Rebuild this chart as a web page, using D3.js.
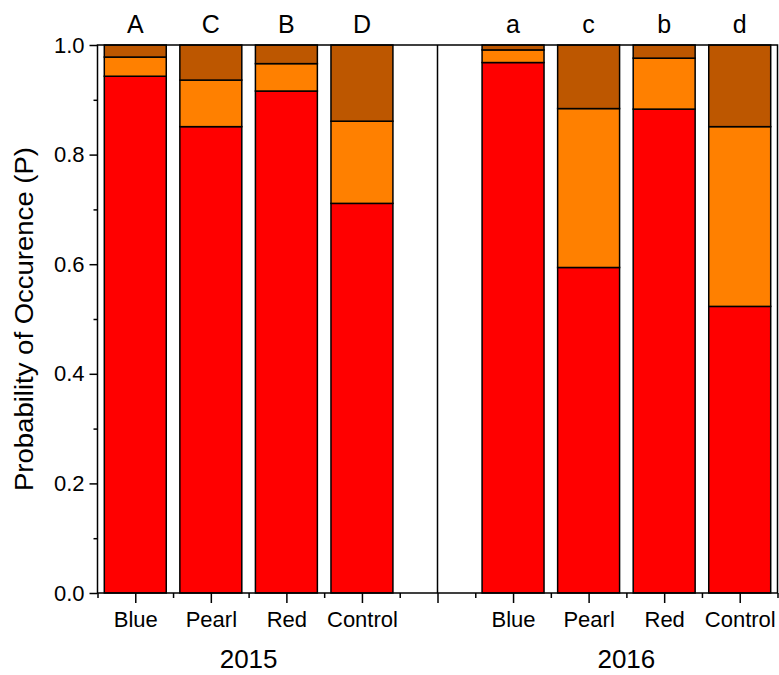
<!DOCTYPE html>
<html><head><meta charset="utf-8">
<script src="https://cdn.jsdelivr.net/npm/d3@7"></script>
<style>html,body{margin:0;padding:0;background:#fff;}svg{display:block;font-family:"Liberation Sans",Arial,sans-serif;}</style>
</head><body>
<svg id="c" width="779" height="675"></svg>
<script>
const categories = ["Blue","Pearl","Red","Control","Blue","Pearl","Red","Control"];
const positions = [1,2,3,4,6,7,8,9];
const years = ["2015","2016"];
const yearCenters = [2.5,7.5];
const letters = ["A","C","B","D","a","c","b","d"];
// cumulative boundaries
const redTop =    [0.943,0.851,0.916,0.711, 0.968,0.594,0.883,0.523];
const orangeTop = [0.978,0.936,0.966,0.861, 0.991,0.884,0.976,0.851];
const brownTop =  [1,1,1,1, 1,1,1,1];
const yTicks = [0,0.2,0.4,0.6,0.8,1.0];

const svg = d3.select("#c");
const x = d3.scaleLinear().domain([0.5,9.5]).range([97.5,777.5]);
const y = d3.scaleLinear().domain([0,1]).range([593,45]);
const bw = x(1.41)-x(0.59);
const colors = ["#ff0000","#ff8000","#bd5700"];
const FONT = "Liberation Sans, Arial, sans-serif";

const stacks = categories.map((c,i)=>[[0,redTop[i]],[redTop[i],orangeTop[i]],[orangeTop[i],brownTop[i]]]);
const g = svg.append("g");
stacks.forEach((s,i)=>{
  s.forEach((seg,k)=>{
    g.append("rect")
      .attr("x", x(positions[i]) - bw/2)
      .attr("y", y(seg[1]))
      .attr("width", bw)
      .attr("height", y(seg[0]) - y(seg[1]))
      .attr("fill", colors[k])
      .attr("stroke","#000").attr("stroke-width",1.5);
  });
});

// separator
svg.append("line").attr("x1",x(5)).attr("x2",x(5)).attr("y1",y(0)).attr("y2",y(1))
  .attr("stroke","#000").attr("stroke-width",1.5);

// frame
svg.append("rect").attr("x",x(0.5)).attr("y",y(1)).attr("width",x(9.5)-x(0.5)).attr("height",y(0)-y(1))
  .attr("fill","none").attr("stroke","#000").attr("stroke-width",1.5);

// y axis
const yAxis = d3.axisLeft(y).tickValues(yTicks).tickFormat(d3.format(".1f")).tickSize(8).tickPadding(5);
const ya = svg.append("g").attr("transform",`translate(${x(0.5)},0)`).call(yAxis);
ya.select(".domain").remove();
ya.selectAll("line").attr("stroke-width",1.5);
ya.selectAll("text").attr("font-size",22).attr("fill","#000").attr("font-family",FONT);
const yMinor = d3.axisLeft(y).tickValues([0.1,0.3,0.5,0.7,0.9]).tickFormat("").tickSize(4);
const ym = svg.append("g").attr("transform",`translate(${x(0.5)},0)`).call(yMinor);
ym.select(".domain").remove(); ym.selectAll("line").attr("stroke-width",1.5);

// x axis
const xAxis = d3.axisBottom(x).tickValues([1,2,3,4,5,6,7,8,9])
  .tickFormat(d=>{const i=positions.indexOf(d);return i<0?"":categories[i];}).tickSize(10).tickPadding(8);
const xa = svg.append("g").attr("transform",`translate(0,${y(0)})`).call(xAxis);
xa.select(".domain").remove();
xa.selectAll("line").attr("stroke-width",1.5);
xa.selectAll("text").attr("font-size",22).attr("fill","#000").attr("font-family",FONT);
const xMinor = d3.axisBottom(x).tickValues([0.5,1.5,2.5,3.5,4.5,5.5,6.5,7.5,8.5,9.5]).tickFormat("").tickSize(5);
const xm = svg.append("g").attr("transform",`translate(0,${y(0)})`).call(xMinor);
xm.select(".domain").remove(); xm.selectAll("line").attr("stroke-width",1.5);

// year labels
svg.selectAll(".yr").data(years).join("text").attr("class","yr")
  .attr("x",(d,i)=>x(yearCenters[i])).attr("y",668).attr("text-anchor","middle")
  .attr("font-size",26).attr("fill","#000").text(d=>d);

// letters
svg.selectAll(".lt").data(letters).join("text").attr("class","lt")
  .attr("x",(d,i)=>x(positions[i])).attr("y",33).attr("text-anchor","middle")
  .attr("font-size",25).attr("fill","#000").text(d=>d);

// y title
svg.append("text").attr("transform",`translate(33,${(y(0)+y(1))/2}) rotate(-90)`)
  .attr("text-anchor","middle").attr("font-size",26).attr("fill","#000")
  .attr("textLength",344).attr("lengthAdjust","spacingAndGlyphs")
  .text("Probability of Occurence (P)");
</script>
</body></html>
